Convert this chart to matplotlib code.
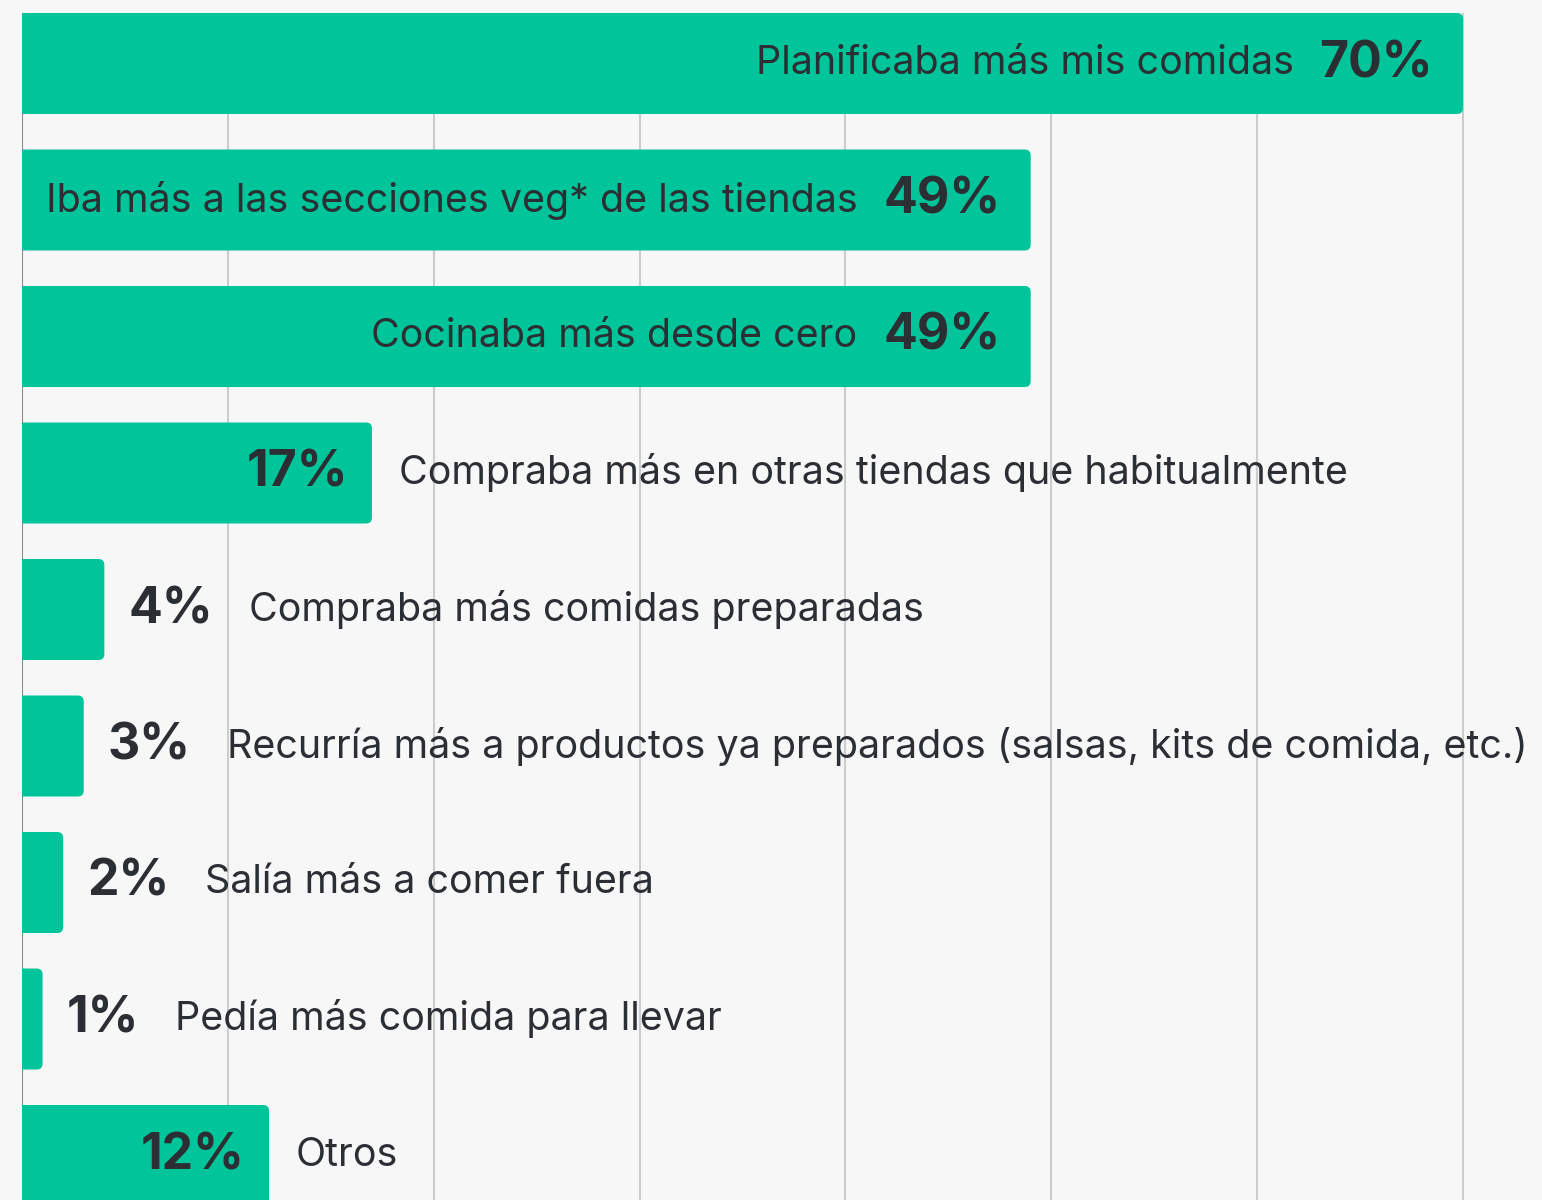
import matplotlib
matplotlib.use("Agg")
import matplotlib.pyplot as plt
from matplotlib.patches import FancyBboxPatch

labels = [
    "Planificaba más mis comidas",
    "Iba más a las secciones veg* de las tiendas",
    "Cocinaba más desde cero",
    "Compraba más en otras tiendas que habitualmente",
    "Compraba más comidas preparadas",
    "Recurría más a productos ya preparados (salsas, kits de comida, etc.)",
    "Salía más a comer fuera",
    "Pedía más comida para llevar",
    "Otros",
]
values = [70, 49, 49, 17, 4, 3, 2, 1, 12]

BG = "#f7f7f7"
BAR = "#00c49a"
TXT = "#2b2f33"
DPI = 100
W, H = 1542, 1200


def px(p):
    # pixels -> points
    return p * 72 / DPI


def plot():
    plt.rcParams["font.family"] = ["Inter", "DejaVu Sans"]
    fig = plt.figure(figsize=(W / DPI, H / DPI), dpi=DPI, facecolor=BG)
    left = 22 / W
    top = 13 / H
    ax = fig.add_axes([left, 0, 1 - left, 1 - top])
    ax.set_facecolor(BG)

    xmax = (W - 22) / ((1463 - 22) / 70)
    pitch = 136.5
    bh = 101 / pitch
    ax.set_xlim(0, xmax)
    ax.set_ylim(-bh / 2 + (H - 13) / pitch, -bh / 2)

    bars = ax.barh(range(len(values)), values, height=bh, color=BAR, zorder=2)
    # swap the plain bars for ones with rounded right corners
    ypx = 1 / pitch
    xpx = 70 / (1463 - 22)
    for b in bars:
        b.set_visible(False)
        x0, y0 = b.get_x(), b.get_y()
        w, h = b.get_width(), b.get_height()
        p = FancyBboxPatch((x0 - 2, y0), w + 2, h,
                           boxstyle="round,pad=0,rounding_size=%f" % (6 * xpx),
                           mutation_aspect=ypx / xpx,
                           fc=BAR, ec="none", zorder=2)
        ax.add_patch(p)

    for x in range(10, 80, 10):
        ax.axvline(x, color="#cccccc", lw=1.5, zorder=1)
    ax.axvline(0, color="#8a8a8a", lw=1.5, zorder=1)

    for s in ax.spines.values():
        s.set_visible(False)
    ax.set_xticks([])
    ax.set_yticks([])

    lsize, vsize = 28.4, 36
    for i, (lab, v) in enumerate(zip(labels, values)):
        if v >= 40:
            vt = ax.annotate(f"{v}%", (v, i), xytext=(-px(30), 0),
                             textcoords="offset points", ha="right", va="center",
                             fontsize=vsize, fontweight="bold", color=TXT, zorder=3)
            ax.annotate(lab, (0, 0.5), xycoords=vt, xytext=(-px(26), 0),
                        textcoords="offset points", ha="right", va="center",
                        fontsize=lsize, color=TXT, zorder=3)
        elif v >= 10:
            ax.annotate(f"{v}%", (v, i), xytext=(-px(24), 0),
                        textcoords="offset points", ha="right", va="center",
                        fontsize=vsize, fontweight="bold", color=TXT, zorder=3)
            ax.annotate(lab, (v, i), xytext=(px(27), 0),
                        textcoords="offset points", ha="left", va="center",
                        fontsize=lsize, color=TXT, zorder=3)
        else:
            vt = ax.annotate(f"{v}%", (v, i), xytext=(px(24), 0),
                             textcoords="offset points", ha="left", va="center",
                             fontsize=vsize, fontweight="bold", color=TXT, zorder=3)
            ax.annotate(lab, (1, 0.5), xycoords=vt, xytext=(px(36), 0),
                        textcoords="offset points", ha="left", va="center",
                        fontsize=lsize, color=TXT, zorder=3)

    fig.savefig("out.png", dpi=DPI, facecolor=BG)


if __name__ == "__main__":
    plot()
